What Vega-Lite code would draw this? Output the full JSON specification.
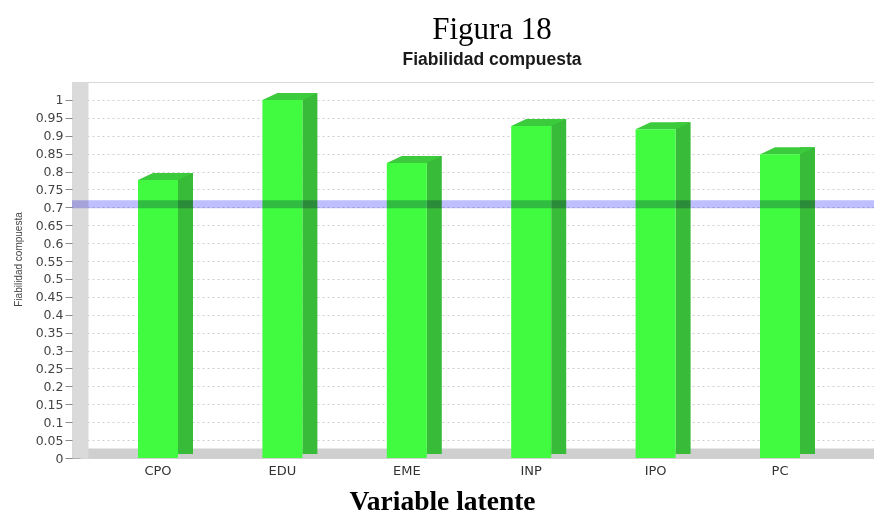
{
  "$schema": "https://vega.github.io/schema/vega-lite/v6.json",
  "width": 802,
  "height": 376,
  "autosize": {"type": "none"},
  "padding": {"left": 72, "top": 82, "right": 0, "bottom": 56},
  "background": "white",
  "config": {"view": {"stroke": "#d8d8d8", "strokeWidth": 1}},
  "title": {
    "text": "Figura 18",
    "subtitle": "Fiabilidad compuesta",
    "anchor": "middle",
    "frame": "group",
    "dx": 19,
    "font": "Liberation Serif",
    "fontSize": 31,
    "fontWeight": "normal",
    "color": "#000000",
    "subtitleFont": "Liberation Sans",
    "subtitleFontSize": 17.5,
    "subtitleFontWeight": "bold",
    "subtitleColor": "#1a1a1a",
    "subtitlePadding": 5,
    "offset": 13
  },
  "data": {
    "values": [
      {"variable": "CPO", "value": 0.776},
      {"variable": "EDU", "value": 1.0},
      {"variable": "EME", "value": 0.824},
      {"variable": "INP", "value": 0.927},
      {"variable": "IPO", "value": 0.918},
      {"variable": "PC", "value": 0.848}
    ]
  },
  "encoding": {
    "x": {
      "field": "variable",
      "type": "nominal",
      "sort": null,
      "scale": {"paddingInner": 0.5, "paddingOuter": 0.4735, "align": 0.466},
      "axis": {
        "orient": "bottom",
        "offset": -5,
        "domain": true,
        "domainColor": "#cfcfcf",
        "domainWidth": 10,
        "ticks": false,
        "tickSize": 0,
        "labelAngle": 0,
        "labelPadding": 11,
        "labelFont": "DejaVu Sans",
        "labelFontSize": 13,
        "labelColor": "#333333",
        "labelBaseline": "top",
        "grid": false,
        "title": "Variable latente",
        "titleFont": "Liberation Serif",
        "titleFontSize": 27.5,
        "titleFontWeight": "bold",
        "titleColor": "#000000",
        "titleX": 370,
        "titleY": 56,
        "titleAlign": "center",
        "titleBaseline": "alphabetic"
      }
    },
    "y": {
      "field": "value",
      "type": "quantitative",
      "scale": {"domain": [0, 1.05], "nice": false, "zero": true},
      "axis": {
        "orient": "left",
        "offset": -8,
        "values": [0, 0.05, 0.1, 0.15, 0.2, 0.25, 0.3, 0.35, 0.4, 0.45, 0.5, 0.55, 0.6, 0.65, 0.7, 0.75, 0.8, 0.85, 0.9, 0.95, 1],
        "format": "~g",
        "domain": true,
        "domainColor": "#dadada",
        "domainWidth": 16,
        "ticks": true,
        "tickSize": 15,
        "tickColor": "#8a8a8a",
        "labelPadding": 2,
        "labelFont": "DejaVu Sans",
        "labelFontSize": 12.5,
        "labelColor": "#444444",
        "grid": true,
        "gridColor": "#cfcfcf",
        "gridDash": [2, 3],
        "gridWidth": 1,
        "title": "Fiabilidad compuesta",
        "titleFont": "Liberation Sans",
        "titleFontSize": 10,
        "titleFontWeight": "normal",
        "titleColor": "#444444",
        "titleAngle": -90,
        "titleX": -59,
        "titleY": 177,
        "titleAlign": "center",
        "titleBaseline": "alphabetic"
      }
    }
  },
  "layer": [
    {
      "mark": {"type": "bar", "size": 15, "xOffset": 27.5, "yOffset": -7, "y2Offset": -4, "color": "#38bb38"},
      "encoding": {"y2": {"datum": 0}}
    },
    {
      "mark": {
        "type": "point",
        "shape": "M-0.5714,0L0.5714,0L1,-0.2L-0.1429,-0.2Z",
        "size": 4900,
        "filled": true,
        "opacity": 1,
        "strokeWidth": 0,
        "color": "#3ccb3c"
      }
    },
    {
      "mark": {"type": "bar", "size": 40, "color": "#40fb40"}
    },
    {
      "data": {"values": [{"umbral": 0.7}]},
      "mark": {"type": "rule", "strokeWidth": 8, "yOffset": -3, "color": "#bfbfff", "blend": "multiply"},
      "encoding": {"y": {"field": "umbral", "type": "quantitative"}, "x": null}
    }
  ]
}
